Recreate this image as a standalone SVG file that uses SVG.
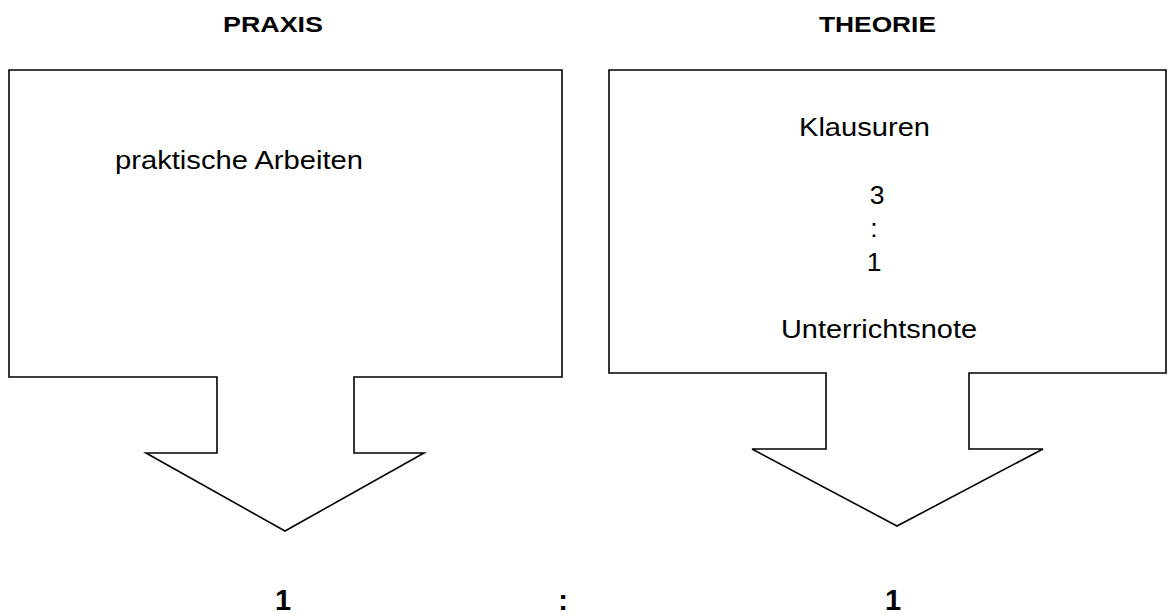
<svg xmlns="http://www.w3.org/2000/svg" width="1175" height="616" viewBox="0 0 1175 616">
<style>
.shape{fill:#fff;stroke:#000;stroke-width:1.6;stroke-linejoin:miter}
.t{font-family:"Liberation Sans",Arial,sans-serif;font-size:26.5px;fill:#000}
.h{font-family:"Liberation Sans",Arial,sans-serif;font-size:22px;font-weight:bold;fill:#000}
.b{font-family:"Liberation Sans",Arial,sans-serif;font-size:29px;font-weight:bold;fill:#000}
</style>
<rect width="1175" height="616" fill="#fff"/>
<g id="praxis">
<text class="h" x="223" y="32" textLength="100" lengthAdjust="spacingAndGlyphs">PRAXIS</text>
<path class="shape" d="M9,70 H562 V377 H354 V453 H424 L285,531 L146,453 H217 V377 H9 Z"/>
<text class="t" x="115" y="169" textLength="248" lengthAdjust="spacingAndGlyphs">praktische Arbeiten</text>
</g>
<g id="theorie">
<text class="h" x="819" y="32" textLength="117" lengthAdjust="spacingAndGlyphs">THEORIE</text>
<path class="shape" d="M609,70 H1166 V373 H969 V449 H1043 L897,526 L752,449 H826 V373 H609 Z"/>
<text class="t" x="799" y="136" textLength="131" lengthAdjust="spacingAndGlyphs">Klausuren</text>
<text class="t" x="877" y="204" text-anchor="middle">3</text>
<text class="t" x="874" y="237" text-anchor="middle">:</text>
<text class="t" x="874" y="271" text-anchor="middle">1</text>
<text class="t" x="781" y="338" textLength="196" lengthAdjust="spacingAndGlyphs">Unterrichtsnote</text>
</g>
<g id="ratio">
<text class="b" x="283" y="610" text-anchor="middle">1</text>
<text class="b" x="563" y="610" text-anchor="middle">:</text>
<text class="b" x="893" y="610" text-anchor="middle">1</text>
</g>
<g id="connectors"></g>
</svg>
